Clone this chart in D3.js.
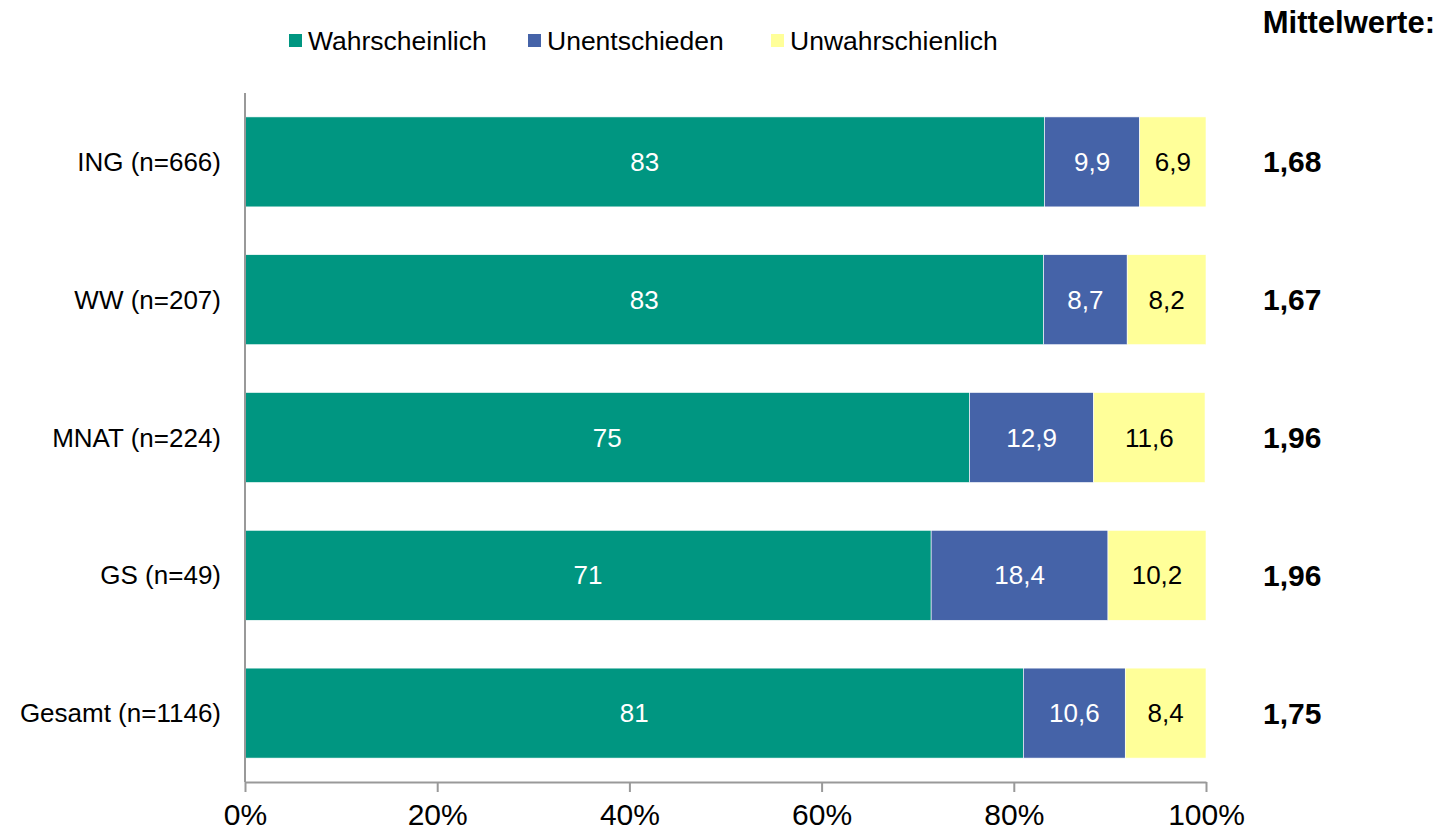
<!DOCTYPE html>
<html><head><meta charset="utf-8">
<script src="https://cdn.jsdelivr.net/npm/d3@7"></script>
<style>body{margin:0;background:#fff}svg{font-family:"Liberation Sans",Arial,sans-serif}</style>
</head><body><svg id="c" width="1453" height="837"></svg>
<script>
const categories = ["ING (n=666)", "WW (n=207)", "MNAT (n=224)", "GS (n=49)", "Gesamt (n=1146)"];
const seriesNames = ["Wahrscheinlich", "Unentschieden", "Unwahrschienlich"];
const wahrscheinlich = [83.2, 83.1, 75.4, 71.4, 81.0];
const unentschieden = [9.9, 8.7, 12.9, 18.4, 10.6];
const unwahrscheinlich = [6.9, 8.2, 11.6, 10.2, 8.4];
const mittelwerte = ["1,68", "1,67", "1,96", "1,96", "1,75"];
const xTicks = [0, 20, 40, 60, 80, 100];
const colors = ["#009681", "#4563A8", "#FFFF99"];
const labelColors = ["#fff", "#fff", "#000"];

(function () {
const svg = d3.select("#c");
const pL = 245, pR = 1206, pT = 93, pB = 782;
const x = d3.scaleLinear().domain([0, 100]).range([pL, pR]);
const y = d3.scaleBand().domain(categories).range([pT, pB]).paddingInner(0.347).paddingOuter(0.1735);

const stackData = categories.map((c, i) => {
  const vals = [wahrscheinlich[i], unentschieden[i], unwahrscheinlich[i]];
  const o = {cat: c}; seriesNames.forEach((s, k) => o[s] = vals[k]); return o;
});
const stack = d3.stack().keys(seriesNames)(stackData);
const fmt = [v => d3.format(".0f")(v), v => d3.format(".1f")(v).replace(".", ","), v => d3.format(".1f")(v).replace(".", ",")];

stack.forEach((layer, k) => {
  const g = svg.append("g");
  g.selectAll("rect").data(layer).join("rect")
    .attr("x", d => x(d[0])).attr("width", d => x(d[1]) - x(d[0]))
    .attr("y", d => y(d.data.cat)).attr("height", y.bandwidth())
    .attr("fill", colors[k]).attr("stroke", "#fff").attr("stroke-width", 0.6);
  g.selectAll("text").data(layer).join("text")
    .attr("x", d => (x(d[0]) + x(d[1])) / 2).attr("y", d => y(d.data.cat) + y.bandwidth() / 2)
    .attr("dy", "0.35em").attr("text-anchor", "middle").attr("font-size", 26)
    .attr("fill", labelColors[k]).text(d => fmt[k](d[1] - d[0]));
});

svg.append("line").attr("x1", pL).attr("x2", pL).attr("y1", pT).attr("y2", pB)
  .attr("stroke", "#999").attr("stroke-width", 2);
svg.append("g").selectAll("text").data(categories).join("text")
  .attr("x", 221).attr("y", d => y(d) + y.bandwidth() / 2).attr("dy", "0.35em")
  .attr("text-anchor", "end").attr("font-size", 26).attr("fill", "#000").text(d => d);

const xa = svg.append("g").attr("transform", `translate(0,${pB})`)
  .call(d3.axisBottom(x).tickValues(xTicks).tickSize(10).tickSizeOuter(0).tickFormat(d => d + "%"));
xa.select(".domain").attr("stroke", "#999").attr("stroke-width", 2);
xa.selectAll(".tick line").attr("stroke", "#999").attr("stroke-width", 2);
xa.selectAll(".tick text").attr("font-size", 30).attr("fill", "#000").attr("y", 22)
  .attr("font-family", "'Liberation Sans', Arial, sans-serif");

svg.append("text").attr("x", 1435).attr("y", 33).attr("text-anchor", "end")
  .attr("font-size", 31).attr("font-weight", "bold").text("Mittelwerte:");
svg.append("g").selectAll("text").data(categories).join("text")
  .attr("x", 1263).attr("y", d => y(d) + y.bandwidth() / 2).attr("dy", "0.35em")
  .attr("font-size", 30).attr("font-weight", "bold").text((d, i) => mittelwerte[i]);

const legX = [289, 528, 771];
const leg = svg.append("g");
seriesNames.forEach((s, k) => {
  leg.append("rect").attr("x", legX[k]).attr("y", 34).attr("width", 13).attr("height", 13).attr("fill", colors[k]);
  leg.append("text").attr("x", legX[k] + 19).attr("y", 41).attr("dy", "0.35em").attr("font-size", 26.5).text(s);
});
})();
</script></body></html>
